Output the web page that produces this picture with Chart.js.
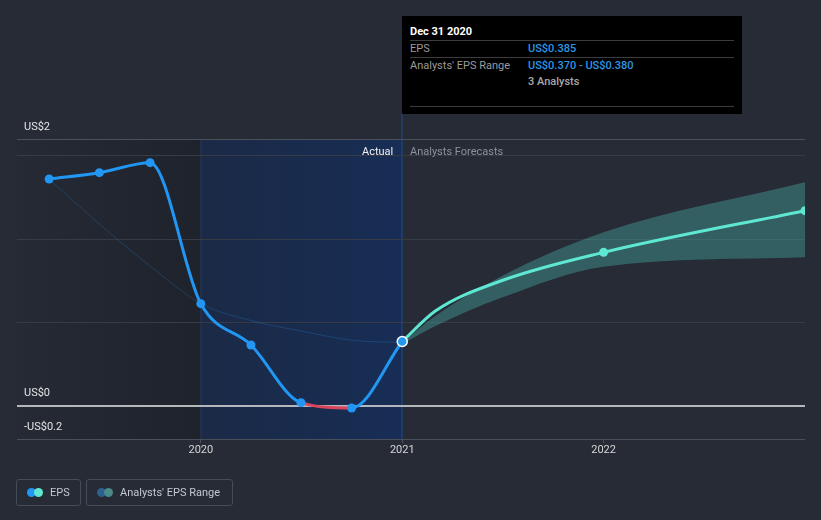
<!DOCTYPE html>
<html><head><meta charset="utf-8">
<script src="https://cdn.jsdelivr.net/npm/chart.js@4.4.1/dist/chart.umd.min.js"></script>
<style>
html,body{margin:0;padding:0;background:#262b36;}
#wrap{position:relative;width:821px;height:520px;overflow:hidden;font-family:Roboto,"Noto Sans",sans-serif;font-size:11px;}
#c{position:absolute;left:0;top:0;}
.abs{position:absolute;white-space:nowrap;line-height:13px;}
.tt{position:absolute;left:402px;top:16px;width:340px;height:98px;background:#000;}
.hr{position:absolute;left:8px;width:324px;height:1px;background:#3c3c3c;}
.lbl{color:#9b9b9b;}
.val{color:#2d96e6;font-weight:500;}
.lg{position:absolute;top:479px;height:27px;box-sizing:border-box;border:1px solid #454b57;border-radius:3px;}
.dot{position:absolute;width:9px;height:9px;border-radius:50%;top:8px;}
.lgt{position:absolute;top:6px;color:#c3c8d0;font-size:11px;line-height:13px;white-space:nowrap;}
</style></head>
<body>
<div id="wrap">
<canvas id="c" width="821" height="520"></canvas>
<div class="abs" style="left:362px;top:144.5px;color:#f0f0f0;">Actual</div>
<div class="abs" style="left:410px;top:144.5px;color:#8c919b;">Analysts Forecasts</div>
<div class="tt">
  <div class="abs" style="left:8px;top:8.5px;color:#fff;font-weight:700;">Dec 31 2020</div>
  <div class="hr" style="top:24px"></div>
  <div class="abs lbl" style="left:8px;top:25.5px;">EPS</div>
  <div class="abs val" style="left:126px;top:25.5px;">US$0.385</div>
  <div class="hr" style="top:41px"></div>
  <div class="abs lbl" style="left:8px;top:42.5px;">Analysts' EPS Range</div>
  <div class="abs val" style="left:126px;top:42.5px;">US$0.370 - US$0.380</div>
  <div class="abs" style="left:126px;top:58.5px;color:#a9a9a9;font-weight:500;">3 Analysts</div>
  <div class="hr" style="top:90px"></div>
</div>
<div class="lg" style="left:16px;width:65px;">
  <div class="dot" style="left:10px;background:#2196f3;"></div>
  <div class="dot" style="left:17px;background:#5ee8d3;"></div>
  <div class="lgt" style="left:33px;">EPS</div>
</div>
<div class="lg" style="left:86px;width:147px;">
  <div class="dot" style="left:10px;background:#2a618f;"></div>
  <div class="dot" style="left:17px;background:#4a8a87;"></div>
  <div class="lgt" style="left:33px;">Analysts' EPS Range</div>
</div>
</div>
<script>
// ---- data ----
const epsDates = ['2019-03-31','2019-06-30','2019-09-30','2019-12-31','2020-03-31','2020-06-30','2020-09-30','2020-12-31'];
const epsValues = [1.36, 1.398, 1.458, 0.612, 0.364, 0.018, -0.014, 0.385];
const trendValues = [1.36, 1.09, 0.838, 0.613, 0.511, 0.448, 0.393, 0.378];
const forecastDates = ['2020-12-31','2021-03-01','2021-06-30','2021-12-31','2022-12-31'];
const forecastValues = [0.385, 0.568, 0.751, 0.92, 1.17];
const forecastHigh = [0.38, 0.538, 0.778, 1.04, 1.34];
const forecastLow = [0.37, 0.478, 0.649, 0.834, 0.89];
const forecastShowPoint = [false, false, false, true, true];
const periodBounds = ['2019-12-31','2020-12-31'];
const xTickValues = [2020, 2021, 2022];
const xTickLabels = ['2020', '2021', '2022'];
const yTickValues = [-0.2, 0, 0.5, 1, 1.5, 1.6];
const yTickLabels = ['-US$0.2', 'US$0', '', '', '', 'US$2'];
const xMin = 2019.087, xMax = 2023.0, yMin = -0.2, yMax = 1.6;

function yearFrac(s){
  const [y,m,d] = s.split('-').map(Number);
  const start = Date.UTC(y,0,1), end = Date.UTC(y+1,0,1);
  return y + (Date.UTC(y,m-1,d) + 86400000 - start)/(end-start);
}
const pts = (dates, vals) => dates.map((d,i)=>({x:yearFrac(d), y:vals[i]}));

const BLUE='#2196f3', MINT='#5ee8d3', RED='#d9465c';

const bgPlugin = {
  id:'bg',
  beforeDraw(chart){
    const {ctx, chartArea:a, scales:{x}} = chart;
    const xa = x.getPixelForValue(yearFrac(periodBounds[0]));
    const xb = x.getPixelForValue(yearFrac(periodBounds[1]));
    ctx.save();
    ctx.fillStyle='#262b36'; ctx.fillRect(0,0,chart.width,chart.height);
    let g = ctx.createLinearGradient(a.left,0,xa,0);
    g.addColorStop(0,'rgba(18,20,26,0.05)'); g.addColorStop(1,'rgba(18,20,26,0.36)');
    ctx.fillStyle=g; ctx.fillRect(a.left,a.top,xa-a.left,a.bottom-a.top);
    g = ctx.createLinearGradient(xa,0,xb,0);
    g.addColorStop(0,'rgba(10,40,95,0.40)'); g.addColorStop(1,'rgba(10,48,115,0.52)');
    ctx.fillStyle=g; ctx.fillRect(xa,a.top,xb-xa,a.bottom-a.top);
    ctx.fillStyle='rgba(45,85,150,0.45)'; ctx.fillRect(Math.round(xa)-0.5,a.top,1,a.bottom-a.top);
    ctx.fillStyle='#1f4b8c'; ctx.fillRect(Math.round(xb)-0.5,113,1,a.bottom-113);
    ctx.restore();
  }
};

new Chart(document.getElementById('c'), {
  type:'line',
  data:{datasets:[
    {label:'high', data:pts(forecastDates,forecastHigh), borderWidth:0, pointRadius:0, fill:'+1',
     backgroundColor:'rgba(76,175,165,0.40)', cubicInterpolationMode:'monotone', order:5},
    {label:'low', data:pts(forecastDates,forecastLow), borderWidth:0, pointRadius:0, fill:false,
     cubicInterpolationMode:'monotone', order:5},
    {label:'forecast', data:pts(forecastDates,forecastValues), borderColor:MINT, borderWidth:3,
     pointRadius:forecastShowPoint.map(s=>s?4.5:0), pointBackgroundColor:MINT, pointBorderWidth:0,
     cubicInterpolationMode:'monotone', order:3},
    {label:'trend', data:pts(epsDates,trendValues), borderColor:'rgba(40,140,230,0.25)', borderWidth:1,
     pointRadius:0, cubicInterpolationMode:'monotone', order:2},
    {label:'EPS', data:pts(epsDates,epsValues), borderColor:BLUE, borderWidth:3,
     segment:{borderColor:c=>c.p1.parsed.y<0?RED:undefined},
     pointRadius:epsValues.map((v,i)=>i===epsValues.length-1?5:4.5),
     pointBackgroundColor:BLUE,
     pointBorderColor:epsValues.map((v,i)=>i===epsValues.length-1?'#ffffff':BLUE),
     pointBorderWidth:epsValues.map((v,i)=>i===epsValues.length-1?1.5:0),
     cubicInterpolationMode:'monotone', order:1}
  ]},
  options:{
    responsive:false, animation:false, events:[],
    layout:{padding:{left:17,right:16,top:139,bottom:61}},
    plugins:{legend:{display:false}, tooltip:{enabled:false}},
    scales:{
      x:{type:'linear', min:xMin, max:xMax,
        afterFit:s=>{s.height=20;},
        afterBuildTicks:s=>{s.ticks=xTickValues.map(v=>({value:v}));},
        border:{display:false},
        grid:{drawOnChartArea:false, drawTicks:true, tickLength:4, color:'#4c525d'},
        ticks:{padding:1, color:'#d6d6d6', font:{family:'Roboto',size:11}, maxRotation:0,
          callback:(v)=>{const i=xTickValues.indexOf(v);return i>=0?xTickLabels[i]:'';}}
      },
      y:{type:'linear', min:yMin, max:yMax,
        afterFit:s=>{s.width=0;},
        afterBuildTicks:s=>{s.ticks=yTickValues.map(v=>({value:v}));},
        border:{display:false},
        grid:{drawTicks:false,
          color:c=>{const v=c.tick.value; if(v===0) return '#b4b7bc'; if(v===yMax||v===yMin) return '#4a505b'; return '#363b46';},
          lineWidth:c=>c.tick.value===0?2:1},
        ticks:{mirror:true, padding:7, labelOffset:-12, color:'#e4e4e4', font:{family:'Roboto',size:11},
          callback:(v)=>{const i=yTickValues.indexOf(v);return i>=0?yTickLabels[i]:'';}}
      }
    }
  },
  plugins:[bgPlugin]
});
</script>
</body></html>
